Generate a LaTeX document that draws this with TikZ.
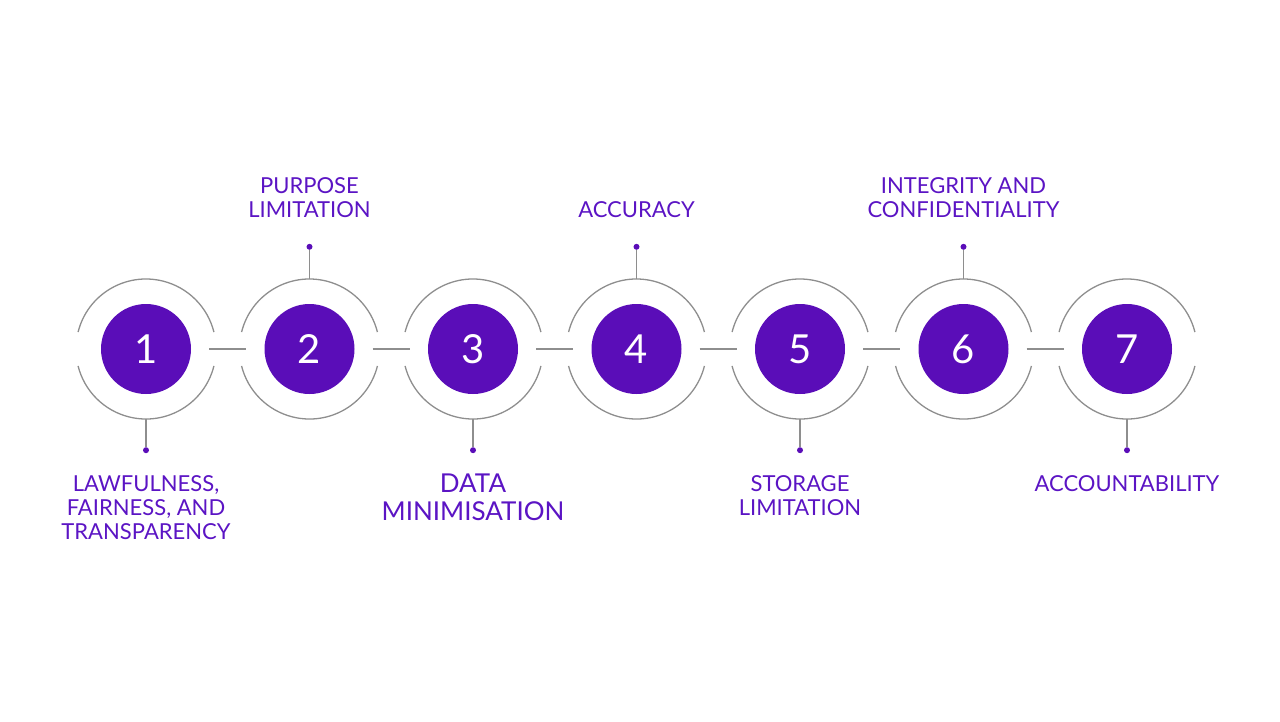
\documentclass[tikz,border=0pt]{standalone}
\usepackage{fontspec}
\setmainfont{Lato}
\usepackage{xcolor}
\definecolor{gdprpurple}{HTML}{5A0DB8}
\definecolor{gdprtext}{HTML}{5B14C4}
\definecolor{ringgray}{HTML}{8E8E8E}
\tikzset{
    ring/.style={draw=ringgray, line width=1.3pt},
    core/.style={circle, fill=gdprpurple, minimum size=90pt, inner sep=0pt, text=white, font=\fontsize{40}{40}\selectfont},
    link/.style={draw=ringgray, line width=1.3pt},
    tip/.style={circle, fill=gdprpurple, minimum size=6pt, inner sep=0pt},
    caption/.style={text=gdprtext, align=center, font=\fontsize{22}{24}\selectfont},
}
\begin{document}
\begin{tikzpicture}[x=1pt, y=-1pt]
    \useasboundingbox (0,0) rectangle (1280,721);
    \pgfmathsetmacro{\ringrad}{70}

    % rings and numbered discs
    \foreach \i in {1,...,7} {
        \pgfmathsetmacro{\cx}{146+163.5*(\i-1)}
        \node [core] (c\i) at (\cx,349) {\i};
        \draw [ring] (c\i.center) ++(14:\ringrad) arc[start angle=14, end angle=166, radius=\ringrad];
        \draw [ring] (c\i.center) ++(194:\ringrad) arc[start angle=194, end angle=346, radius=\ringrad];
    }

    % connectors between rings
    \foreach \i [evaluate=\i as \j using int(\i+1)] in {1,...,6}
        \draw [link] ([xshift=18pt]c\i.east) -- ([xshift=-18pt]c\j.west);

    % stems with dots
    \foreach \i in {1,3,5,7} {
        \node [tip] (d\i) at ([yshift=-56pt]c\i.south) {};
        \draw [link] ([yshift=-25pt]c\i.south) -- (d\i);
    }
    \foreach \i in {2,4,6} {
        \node [tip] (d\i) at ([yshift=57pt]c\i.north) {};
        \draw [link] ([yshift=25pt]c\i.north) -- (d\i);
    }

    % captions
    \node [caption, anchor=north] (l1) at ([yshift=-19pt]d1.south) {LAWFULNESS,\\FAIRNESS, AND\\TRANSPARENCY};
    \node [caption, anchor=south] (l2) at ([yshift=22pt]d2.north) {PURPOSE\\LIMITATION};
    \node [caption, anchor=north, font=\fontsize{26}{28}\selectfont] (l3) at ([yshift=-17pt]d3.south) {DATA\\MINIMISATION};
    \node [caption, anchor=south] (l4) at ([yshift=22pt]d4.north) {ACCURACY};
    \node [caption, anchor=north] (l5) at ([yshift=-19pt]d5.south) {STORAGE\\LIMITATION};
    \node [caption, anchor=south] (l6) at ([yshift=22pt]d6.north) {INTEGRITY AND\\CONFIDENTIALITY};
    \node [caption, anchor=north] (l7) at ([yshift=-19pt]d7.south) {ACCOUNTABILITY};
\end{tikzpicture}
\end{document}
